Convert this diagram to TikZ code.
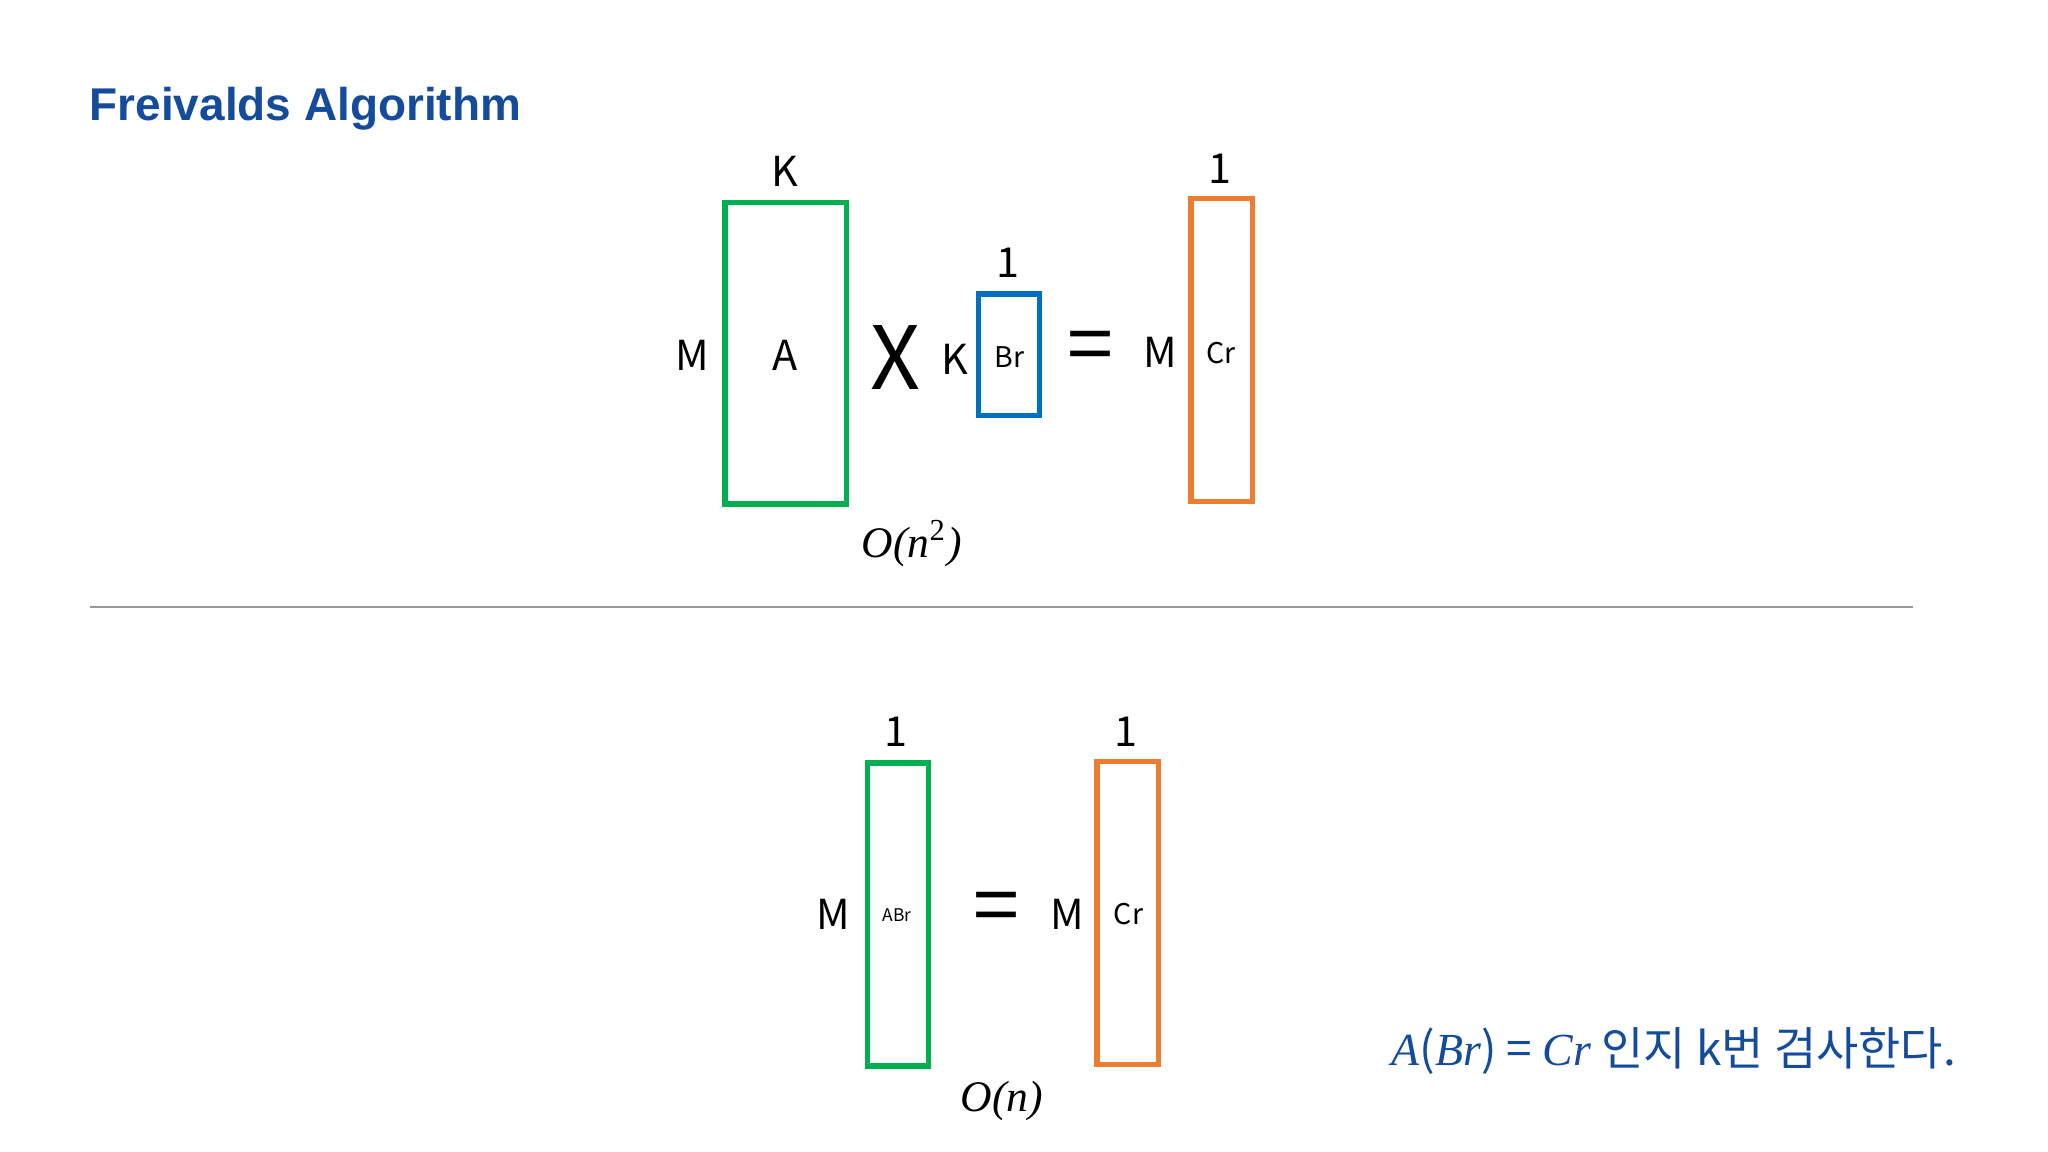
\documentclass[tikz,border=0pt]{standalone}
\usepackage{fontspec}
\setmainfont{Noto Sans CJK KR}
\newfontfamily\lsans{Liberation Sans}
\newfontfamily\mth{Liberation Serif}
\definecolor{tblue}{RGB}{20,75,155}
\definecolor{mgreen}{RGB}{0,176,80}
\definecolor{mblue}{RGB}{0,112,192}
\definecolor{morange}{RGB}{237,125,49}
\begin{document}
\begin{tikzpicture}[x=0.01cm,y=-0.01cm,
 mat/.style={draw,line width=1.2pt},
 lab/.style={font=\fontsize{9}{10}\selectfont},
 sm/.style={font=\fontsize{6.2}{7}\selectfont},
 mathlab/.style={font=\mth\itshape\fontsize{9.5}{11}\selectfont}]
\useasboundingbox (0,0) rectangle (1568,882);
\node[anchor=base west,text=tblue,font=\lsans\bfseries\fontsize{10}{12}\selectfont,inner sep=0] (title) at (68,92) {Freivalds Algorithm};
% top
\draw[mat,mgreen] (555,155) rectangle (648,386);
\node[lab] (A) at (601,272) {A};
\node[lab] (K1) at (601,131) {K};
\node[lab] (M1) at (530,272) {M};
\node[font=\fontsize{19}{20}\selectfont] (X) at (686,274) {X};
\draw[mat,mblue] (749,225) rectangle (796,318);
\node[lab] (one1) at (772,201) {1};
\node[lab] (K2) at (731,275) {K};
\node[sm] (Br) at (773,273) {Br};
\node[font=\fontsize{18}{20}\selectfont] (eq1) at (835,270) {=};
\node[lab] (M2) at (888,270) {M};
\draw[mat,morange] (912,152) rectangle (959,384);
\node[lab] (one2) at (934,129) {1};
\node[sm] (Cr1) at (935,270) {Cr};
\node[mathlab] (on2) at (698,416) {O(n\textsuperscript{\upshape 2})};
\draw[gray!80,line width=0.4pt] (69,465) -- (1465,465);
% bottom
\draw[mat,mgreen] (664,584) rectangle (711,816);
\node[lab] (one3) at (686,560) {1};
\node[lab] (M3) at (638,700) {M};
\node[font=\fontsize{3.8}{4}\selectfont] (ABr) at (687,701) {ABr};
\node[font=\fontsize{18}{20}\selectfont] (eq2) at (763,700) {=};
\node[lab] (M4) at (817,700) {M};
\draw[mat,morange] (840,583) rectangle (887,815);
\node[lab] (one4) at (862,560) {1};
\node[sm] (Cr2) at (864,700) {Cr};
\node[mathlab] (on) at (767,843) {O(n)};
\node[anchor=west,text=tblue,font=\fontsize{10}{12}\selectfont] (note) at (1053,805) {{\mth\itshape A}({\mth\itshape Br}) = {\mth\itshape Cr} 인지 k번 검사한다.};
\end{tikzpicture}
\end{document}
